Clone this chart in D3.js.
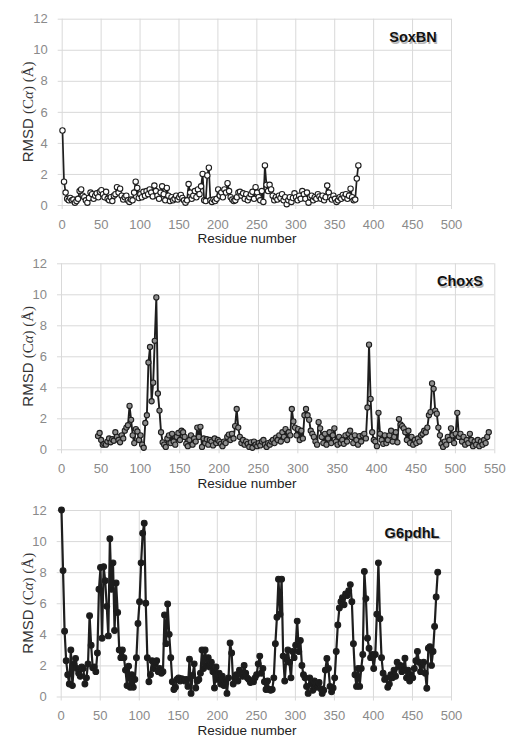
<!DOCTYPE html>
<html><head><meta charset="utf-8">
<script src="https://cdn.jsdelivr.net/npm/d3@7"></script>
<style>body{margin:0;background:#fff}svg{display:block}</style>
</head><body>
<svg id="c" width="507" height="738"></svg>
<script>
// ---- data ----
const yTicks = [0,2,4,6,8,10,12];
const xTicks500 = [0,50,100,150,200,250,300,350,400,450,500];
const xTicks550 = [0,50,100,150,200,250,300,350,400,450,500,550];
const panelNames = ["SoxBN","ChoxS","G6pdhL"];
const xTitle = "Residue number";

// SoxBN: residues 1,3,5,... (step 2)
const soxStart = 1, soxStep = 2;
const soxVal = [
4.8,1.5,0.8,0.4,0.3, 0.45,0.3,0.35,0.15,0.25, 0.4,0.9,1.0,0.6,0.5, 0.3,0.15,0.45,0.8,0.7,
0.4,0.6,0.75,0.5,0.85, 0.95,0.7,0.5,0.85,0.4, 0.3,0.5,0.25,0.6,0.7, 1.15,0.8,1.05,0.6,0.35,
0.5,0.6,0.3,0.2,0.35, 0.3,0.8,1.5,1.1,0.45, 0.7,0.5,0.85,0.6,0.9, 0.7,1.0,0.8,0.55,1.25,
0.9,0.6,0.4,0.8,1.2, 0.7,0.3,1.1,0.6,0.25, 0.5,0.3,0.4,0.6,0.35, 0.5,0.65,0.45,0.3,0.15,
0.3,1.35,0.8,0.4,0.6, 0.9,0.5,1.0,0.7,1.2, 2.0,0.3,0.25,1.9,2.4, 0.3,0.2,0.35,0.25,0.4,
1.0,0.6,0.8,0.5,1.0, 0.8,1.4,0.9,0.5,0.35, 0.25,0.3,0.5,0.8,0.85, 0.6,0.75,0.4,0.7,0.3,
0.5,0.7,0.85,0.4,1.15, 0.8,0.5,0.3,0.9,0.2, 2.55,1.3,0.9,1.3,1.0, 0.6,0.3,0.5,0.35,0.6,
0.45,0.7,0.3,0.5,0.05, 0.3,0.5,0.2,0.45,0.75, 0.5,0.3,0.6,0.4,0.9, 0.7,0.4,0.8,0.15,0.5,
0.6,0.3,0.5,0.4,0.7, 0.55,0.4,0.6,0.3,0.5, 1.25,0.8,0.5,0.35,0.6, 0.4,0.2,0.3,0.5,0.4,
0.65,0.5,0.7,0.4,0.6, 1.05,0.5,0.3,0.35,1.7, 2.55];

// ChoxS: residues 47,49,... (step 2)
const choxStart = 47, choxStep = 2;
const choxVal = [
0.85,1.05,0.6,0.3,0.35, 0.3,0.5,0.7,0.45,0.65, 0.55,1.1,0.8,0.6,0.45, 0.9,0.7,1.2,1.4,1.55,
2.8,1.9,0.9,0.4,1.3, 1.15,0.6,0.9,0.3,0.1, 1.7,2.2,5.6,6.6,3.1, 4.3,7.0,9.8,3.6,2.5,
1.1,0.45,0.3,0.15,0.7, 0.9,0.4,1.0,0.5,0.3, 0.8,1.05,0.6,1.2,1.1, 0.8,0.35,0.2,0.6,0.9,
0.3,0.7,0.5,1.4,0.8, 1.45,0.15,0.7,0.4,0.65, 0.3,0.6,0.5,0.25,0.7, 0.4,0.6,0.5,0.35,0.2,
0.5,0.4,0.8,0.95,0.6, 1.0,0.7,1.5,2.6,1.4, 0.8,0.4,0.6,0.3,0.5, 0.35,0.15,0.45,0.1,0.5,
0.3,0.2,0.4,0.25,0.5, 0.6,0.3,0.15,0.4,0.3, 0.5,0.6,0.4,0.75,0.6, 0.9,0.5,1.1,0.8,1.3,
0.6,1.1,0.9,2.6,1.8, 1.4,0.9,1.3,0.6,1.2, 0.7,2.2,2.6,2.2,1.9, 1.2,1.0,0.8,0.5,0.3,
1.75,1.35,0.8,0.4,1.0, 0.3,0.7,1.1,0.4,0.9, 1.35,0.5,0.3,0.8,0.4, 0.6,0.35,0.9,0.5,1.0,
1.2,0.8,0.4,0.9,0.6, 0.3,0.85,0.5,0.9,1.0, 0.7,2.7,6.75,3.25,1.1, 0.6,0.5,0.2,2.35,1.0,
0.6,0.35,0.9,0.4,0.6, 0.9,1.2,0.5,0.8,1.1, 0.45,1.95,1.6,1.5,1.35, 1.1,0.6,1.2,0.4,0.8,
0.3,0.6,0.4,0.7,0.5, 0.9,1.0,1.2,1.1,1.4, 2.2,2.4,4.25,3.9,2.5, 2.3,1.4,0.9,0.35,0.15,
0.5,0.3,0.8,0.6,1.35, 0.9,0.4,1.0,2.35,0.8, 1.0,0.5,0.8,0.3,0.6, 0.4,1.0,0.6,0.2,0.5,
0.3,0.6,0.2,0.5,0.3, 0.6,0.4,0.8,1.1];

// G6pdhL: residues 1,3,5,... (step 2)
const g6Start = 1, g6Step = 2;
const g6Val = [
12.0,8.1,4.2,2.3,1.4, 0.8,3.0,0.7,2.1,2.45, 1.8,1.5,1.3,1.9,1.8, 0.8,1.2,2.1,5.2,3.3,
1.85,1.9,1.6,2.8,6.9, 8.3,3.75,8.35,7.45,5.8, 3.9,10.15,6.9,8.6,4.25, 7.3,5.4,3.0,2.5,3.0,
2.5,1.7,0.7,1.95,0.6, 1.4,0.6,1.1,2.5,4.7, 6.1,8.6,10.5,11.15,6.0, 2.5,0.95,1.4,2.3,1.8,
2.1,2.3,1.6,1.8,1.5, 1.6,5.25,3.4,5.95,4.0, 2.5,0.95,0.45,0.6,1.1, 1.2,1.0,1.15,1.1,1.0,
1.1,0.65,2.4,0.2,1.35, 2.1,0.55,1.0,1.1,1.5, 3.0,1.8,3.0,2.0,2.5, 1.9,2.2,1.6,0.55,1.9,
1.1,1.5,0.8,1.3,0.7, 1.0,0.2,1.2,3.45,2.8, 0.8,1.2,1.4,1.0,1.7, 1.5,1.3,2.0,1.5,1.2,
1.1,0.9,1.0,0.95,1.2, 1.4,2.1,2.6,1.5,1.8, 0.95,0.45,1.0,0.45,0.4, 0.45,1.2,3.4,5.1,7.55,
5.3,7.55,2.6,1.0,2.4, 3.0,2.2,1.2,2.9,2.5, 3.3,4.85,2.9,3.6,2.0, 1.4,1.2,0.65,0.2,1.2,
0.8,0.4,1.0,0.6,0.8, 0.9,0.5,0.2,0.4,1.7, 2.45,1.8,0.65,0.3,0.55, 1.2,2.9,4.6,5.7,6.1,
6.35,5.9,6.6,6.5,6.8, 7.2,6.1,3.4,1.4,0.65, 1.8,0.65,1.8,2.7,8.05, 6.3,3.75,3.1,2.5,2.7,
1.8,2.7,5.3,8.6,5.0, 2.5,1.5,1.1,1.2,0.6, 0.8,1.4,1.2,1.7,1.3, 2.2,1.9,2.0,1.6,1.8,
2.46,1.2,1.7,1.0,1.4, 1.2,1.8,2.3,2.9,2.2, 1.6,2.0,2.2,1.5,0.53, 3.1,3.2,2.0,2.9,4.5,
6.4,8.0];

// ---- drawing ----
const svg = d3.select("#c");
const tickFont = "'Liberation Sans',Arial,sans-serif";

const panels = [
  {name: panelNames[0], start: soxStart, step: soxStep, vals: soxVal, xTicks: xTicks500,
   left: 61.7, right: 451, top: 18.7, bottom: 205, fill: "#ffffff", r: 2.7, sw: 1.7, lx: 413, ly: 42.5},
  {name: panelNames[1], start: choxStart, step: choxStep, vals: choxVal, xTicks: xTicks550,
   left: 61, right: 494.3, top: 263.3, bottom: 449.3, fill: "#8e8e8e", r: 2.6, sw: 1.9, lx: 460, ly: 286.5},
  {name: panelNames[2], start: g6Start, step: g6Step, vals: g6Val, xTicks: xTicks500,
   left: 60.7, right: 451, top: 510, bottom: 696.5, fill: "#1c1c1c", r: 2.9, sw: 2.2, lx: 412, ly: 538}
];

panels.forEach(p => {
  const data = p.vals.map((v, i) => ({r: p.start + i * p.step, v}));
  const w = p.right - p.left, h = p.bottom - p.top;
  const x = d3.scaleLinear().domain([0, d3.max(p.xTicks)]).range([0, w]);
  const y = d3.scaleLinear().domain([0, 12]).range([h, 0]);
  const g = svg.append("g").attr("transform", `translate(${p.left},${p.top})`);

  // y axis with gridlines
  const ya = g.append("g").call(d3.axisLeft(y).tickValues(yTicks).tickSize(-w).tickSizeOuter(0).tickPadding(14));
  ya.select(".domain").remove();
  ya.selectAll("line").attr("x1", -4).attr("stroke", "#d9d9d9");
  ya.selectAll("text").attr("font-family", tickFont).attr("font-size", 13).attr("fill", "#8a8a8a");

  // x axis with gridlines
  const xa = g.append("g").attr("transform", `translate(0,${h})`)
    .call(d3.axisBottom(x).tickValues(p.xTicks).tickSize(-h).tickSizeOuter(0));
  xa.select(".domain").remove();
  xa.selectAll("line").attr("y1", 4).attr("stroke", "#d9d9d9");
  xa.selectAll("text").attr("font-family", tickFont).attr("font-size", 13).attr("fill", "#8a8a8a")
    .attr("y", 23.8).attr("dy", 0);

  // x title
  g.append("text").attr("x", 247 - p.left).attr("y", h + 38.5)
    .attr("text-anchor", "middle").attr("font-family", tickFont).attr("font-size", 13.5)
    .attr("fill", "#222").text(xTitle);

  // y title
  const yt = g.append("text")
    .attr("transform", `translate(${33 - p.left},${h / 2}) rotate(-90)`)
    .attr("text-anchor", "middle").attr("font-size", 15).attr("fill", "#333");
  yt.append("tspan").attr("font-family", "'Liberation Sans',Arial,sans-serif").text("RMSD ");
  yt.append("tspan").attr("font-family", "'Liberation Serif','DejaVu Serif',serif").text("(C");
  yt.append("tspan").attr("font-family", "'Liberation Serif','DejaVu Serif',serif").attr("font-style", "italic").text("α");
  yt.append("tspan").attr("font-family", "'Liberation Serif','DejaVu Serif',serif").text(") (Å)");

  // line
  const line = d3.line().x(d => x(d.r)).y(d => y(d.v));
  g.append("path").datum(data).attr("d", line).attr("fill", "none")
    .attr("stroke", "#1e1e1e").attr("stroke-width", p.sw).attr("stroke-linejoin", "round");

  // markers
  g.selectAll("circle.m").data(data).enter().append("circle").attr("class", "m")
    .attr("cx", d => x(d.r)).attr("cy", d => y(d.v)).attr("r", p.r)
    .attr("fill", p.fill).attr("stroke", "#1e1e1e").attr("stroke-width", 1.1);

  // panel label with shadow
  g.append("text").attr("x", p.lx - p.left + 1.2).attr("y", p.ly - p.top + 1.2)
    .attr("text-anchor", "middle").attr("font-family", "'Liberation Sans',Arial,sans-serif")
    .attr("font-weight", "bold").attr("font-size", 14.5).attr("fill", "#9a9a9a").attr("opacity", 0.7)
    .text(p.name);
  g.append("text").attr("x", p.lx - p.left).attr("y", p.ly - p.top)
    .attr("text-anchor", "middle").attr("font-family", "'Liberation Sans',Arial,sans-serif")
    .attr("font-weight", "bold").attr("font-size", 14.5).attr("fill", "#111")
    .text(p.name);
});
</script>
</body></html>
